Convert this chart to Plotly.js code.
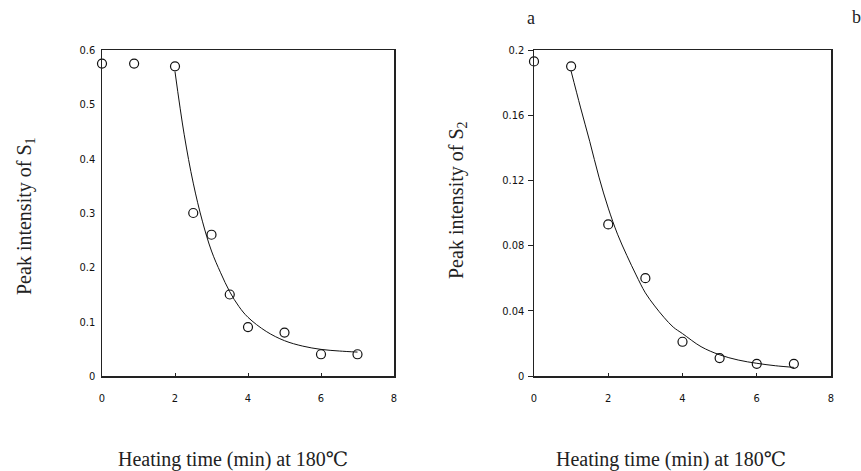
<!DOCTYPE html>
<html>
<head>
<meta charset="utf-8">
<script src="https://cdn.plot.ly/plotly-3.0.1.min.js"></script>
<style>html,body{margin:0;padding:0;background:#fff;}#chart{width:861px;height:471px;}</style>
</head>
<body>
<div id="chart"></div>
<script>
// Panel a: S1
const s1PointsX = [0, 0.88, 2, 2.5, 3, 3.5, 4, 5, 6, 7];
const s1PointsY = [0.575, 0.575, 0.57, 0.30, 0.26, 0.15, 0.09, 0.08, 0.04, 0.04];
const s1CurveX = [2.0, 2.25, 2.5, 2.75, 3.0, 3.25, 3.5, 3.75, 4.0, 4.5, 5.0, 5.5, 6.0, 6.5, 7.0];
const s1CurveY = [0.56, 0.445, 0.355, 0.285, 0.23, 0.19, 0.155, 0.128, 0.108, 0.082, 0.065, 0.055, 0.049, 0.046, 0.044];
// Panel b: S2
const s2PointsX = [0, 1, 2, 3, 4, 5, 6, 7];
const s2PointsY = [0.193, 0.19, 0.093, 0.060, 0.021, 0.011, 0.0075, 0.0075];
const s2CurveX = [1.0, 1.25, 1.5, 1.75, 2.0, 2.25, 2.5, 2.75, 3.0, 3.25, 3.5, 3.75, 4.0, 4.5, 5.0, 5.5, 6.0, 6.5, 7.0];
const s2CurveY = [0.187, 0.165, 0.144, 0.122, 0.103, 0.087, 0.074, 0.062, 0.051, 0.043, 0.036, 0.030, 0.026, 0.018, 0.013, 0.0098, 0.0078, 0.0063, 0.0053];
// Ticks
const xTicks = [0, 2, 4, 6, 8];
const xTickText = ["0", "2", "4", "6", "8"];
const y1Ticks = [0, 0.1, 0.2, 0.3, 0.4, 0.5, 0.6];
const y1TickText = ["0", "0.1", "0.2", "0.3", "0.4", "0.5", "0.6"];
const y2Ticks = [0, 0.04, 0.08, 0.12, 0.16, 0.2];
const y2TickText = ["0", "0.04", "0.08", "0.12", "0.16", "0.2"];
const xTitle = "Heating time (min) at 180℃";
const y1Title = "Peak intensity of S<sub>1</sub>";
const y2Title = "Peak intensity of S<sub>2</sub>";

const W = 861, H = 471;
const px = v => v / W;
const py = v => (H - v) / H;

const markerStyle = {symbol: 'circle-open', size: 9, color: '#111', line: {width: 1.2, color: '#111'}};
const lineStyle = {color: '#111', width: 1, shape: 'spline', smoothing: 1};

const traces = [
  {x: s1CurveX, y: s1CurveY, mode: 'lines', line: lineStyle, xaxis: 'x', yaxis: 'y', hoverinfo: 'skip'},
  {x: s1PointsX, y: s1PointsY, mode: 'markers', marker: markerStyle, xaxis: 'x', yaxis: 'y', cliponaxis: false},
  {x: s2CurveX, y: s2CurveY, mode: 'lines', line: lineStyle, xaxis: 'x2', yaxis: 'y2', hoverinfo: 'skip'},
  {x: s2PointsX, y: s2PointsY, mode: 'markers', marker: markerStyle, xaxis: 'x2', yaxis: 'y2', cliponaxis: false}
];

const tickFont = {family: 'Liberation Sans Narrow, Arial Narrow, DejaVu Sans Condensed, Liberation Sans, sans-serif', size: 11, color: '#111'};
const serif = {family: 'Liberation Serif, Times New Roman, DejaVu Serif, Noto Sans CJK JP, serif', size: 20, color: '#222'};

const axisBase = {
  showline: true, linecolor: '#222', linewidth: 1.5, mirror: true,
  showgrid: false, zeroline: false, tickfont: tickFont, fixedrange: true
};

const layout = {
  width: W, height: H,
  margin: {l: 0, r: 0, t: 0, b: 0},
  paper_bgcolor: '#fff', plot_bgcolor: '#fff',
  showlegend: false,
  xaxis: Object.assign({}, axisBase, {
    domain: [px(102), px(394)], range: [0, 8], anchor: 'y',
    tickvals: xTicks, ticktext: xTickText, ticks: 'inside', ticklen: 3, tickcolor: '#222', ticklabelstandoff: 11
  }),
  yaxis: Object.assign({}, axisBase, {
    domain: [py(376), py(50)], range: [0, 0.6], anchor: 'x',
    tickvals: y1Ticks, ticktext: y1TickText, ticks: '', ticklabelstandoff: 3
  }),
  xaxis2: Object.assign({}, axisBase, {
    domain: [px(534), px(831)], range: [0, 8], anchor: 'y2',
    tickvals: xTicks, ticktext: xTickText, ticks: 'inside', ticklen: 3, tickcolor: '#222', ticklabelstandoff: 11
  }),
  yaxis2: Object.assign({}, axisBase, {
    domain: [py(376), py(50)], range: [0, 0.2], anchor: 'x2',
    tickvals: y2Ticks, ticktext: y2TickText, ticks: 'outside', ticklen: 5, tickcolor: '#222', ticklabelstandoff: 1
  }),
  annotations: [
    {text: y1Title, xref: 'paper', yref: 'paper', x: px(25), y: py(216), textangle: -90, showarrow: false, font: serif, xanchor: 'center', yanchor: 'middle'},
    {text: y2Title, xref: 'paper', yref: 'paper', x: px(457), y: py(200), textangle: -90, showarrow: false, font: serif, xanchor: 'center', yanchor: 'middle'},
    {text: xTitle, xref: 'paper', yref: 'paper', x: px(233), y: py(459), showarrow: false, font: serif, xanchor: 'center', yanchor: 'middle'},
    {text: xTitle, xref: 'paper', yref: 'paper', x: px(671), y: py(459), showarrow: false, font: serif, xanchor: 'center', yanchor: 'middle'},
    {text: 'a', xref: 'paper', yref: 'paper', x: px(531), y: py(18), showarrow: false, font: Object.assign({}, serif, {size: 18}), xanchor: 'center', yanchor: 'middle'},
    {text: 'b', xref: 'paper', yref: 'paper', x: px(856), y: py(17), showarrow: false, font: Object.assign({}, serif, {size: 18}), xanchor: 'center', yanchor: 'middle'}
  ]
};

Plotly.newPlot('chart', traces, layout, {staticPlot: true, displayModeBar: false});
</script>
</body>
</html>
